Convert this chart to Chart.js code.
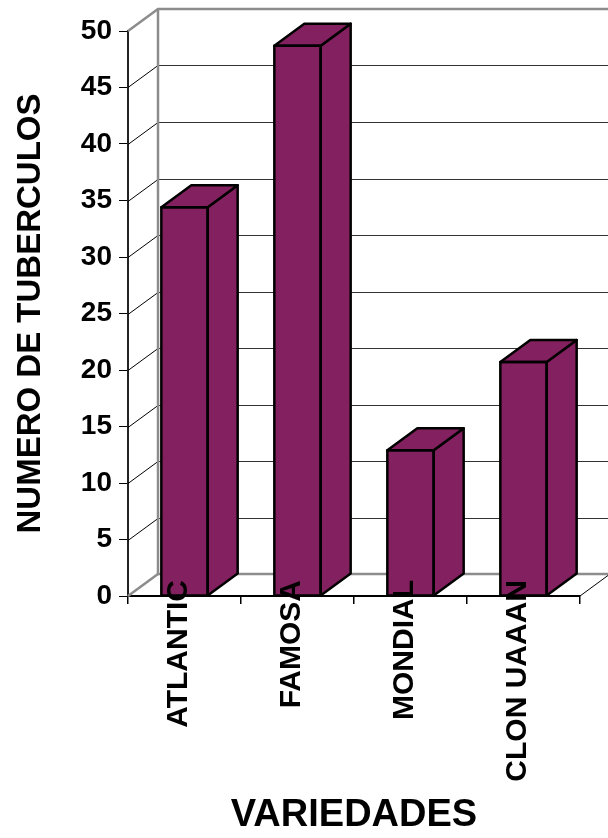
<!DOCTYPE html>
<html>
<head>
<meta charset="utf-8">
<script src="https://cdn.jsdelivr.net/npm/chart.js@4/dist/chart.umd.min.js"></script>
<style>
  html, body { margin: 0; padding: 0; background: #fff; }
  #wrap { width: 608px; height: 838px; position: relative; }
</style>
</head>
<body>
<div id="wrap"><canvas id="chart"></canvas></div>
<script>
// Datos
const VARIEDADES = ['ATLANTIC', 'FAMOSA', 'MONDIAL', 'CLON UAAAN'];
const TUBERCULOS = [34.4, 48.7, 12.9, 20.7];
const Y_MIN = 0, Y_MAX = 50, Y_STEP = 5;

const BAR = '#83205F';
const WALL = '#8c8c8c';
const DX = 30, DY = 22;   // depth of the 3d box (px)
const FONT = "'Liberation Sans', Arial, sans-serif";

// ── 3d walls, floor and bar faces ─────────────────────────────────────────────
const box3d = {
  id: 'box3d',
  beforeDatasetsDraw(chart) {
    const { ctx, chartArea: a, scales: { y } } = chart;
    const line = (pts, color, w) => {
      ctx.beginPath();
      ctx.moveTo(pts[0][0], pts[0][1]);
      pts.slice(1).forEach(p => ctx.lineTo(p[0], p[1]));
      ctx.strokeStyle = color; ctx.lineWidth = w; ctx.stroke();
    };
    ctx.save();
    y.ticks.forEach(t => {
      if (t.value <= Y_MIN || t.value >= Y_MAX) return;
      const py = Math.round(y.getPixelForValue(t.value)) + 0.5;
      line([[a.left + DX, py - DY], [a.right + DX, py - DY]], '#333', 1);
      line([[a.left, py], [a.left + DX, py - DY]], '#000', 1);
    });
    // wall / floor outline
    line([[a.left, a.top], [a.left + DX, a.top - DY], [a.right + DX, a.top - DY]], WALL, 2.5);
    line([[a.left + DX, a.top - DY], [a.left + DX, a.bottom - DY], [a.right + DX, a.bottom - DY]], WALL, 2.5);
    line([[a.left, a.bottom], [a.left + DX, a.bottom - DY]], WALL, 2.5);
    line([[a.right, a.bottom], [a.right + DX, a.bottom - DY]], '#000', 1);
    ctx.restore();
  },
  afterDatasetsDraw(chart) {
    const { ctx } = chart;
    ctx.save();
    ctx.fillStyle = BAR;
    ctx.strokeStyle = '#000';
    ctx.lineWidth = 2.5;
    ctx.lineJoin = 'round';
    chart.getDatasetMeta(0).data.forEach(bar => {
      const { x, y, base, width } = bar.getProps(['x', 'y', 'base', 'width'], true);
      const l = x - width / 2, r = x + width / 2;
      ctx.beginPath();
      ctx.moveTo(r, base); ctx.lineTo(r, y); ctx.lineTo(r + DX, y - DY); ctx.lineTo(r + DX, base - DY);
      ctx.closePath(); ctx.fill(); ctx.stroke();
      ctx.beginPath();
      ctx.moveTo(l, y); ctx.lineTo(l + DX, y - DY); ctx.lineTo(r + DX, y - DY); ctx.lineTo(r, y);
      ctx.closePath(); ctx.fill(); ctx.stroke();
      ctx.strokeRect(l, y, width, base - y);
    });
    ctx.restore();
  },
  // category labels overlap the floor, so Chart.js' clipped tick labels can't be used
  afterDraw(chart) {
    const { ctx, chartArea: a, scales: { x } } = chart;
    ctx.save();
    ctx.fillStyle = '#000';
    ctx.font = `bold 30px ${FONT}`;
    ctx.textAlign = 'right';
    ctx.textBaseline = 'middle';
    chart.data.labels.forEach((lab, i) => {
      ctx.save();
      ctx.translate(x.getPixelForValue(i) - 6, a.bottom - 16);
      ctx.rotate(-Math.PI / 2);
      ctx.fillText(lab, 0, 0);
      ctx.restore();
    });
    ctx.restore();
  },
};

new Chart(document.getElementById('chart'), {
  type: 'bar',
  data: {
    labels: VARIEDADES,
    datasets: [{
      data: TUBERCULOS,
      backgroundColor: BAR,
      borderWidth: 0,
      barPercentage: 0.41,
      categoryPercentage: 1,
    }],
  },
  plugins: [box3d],
  options: {
    responsive: true,
    maintainAspectRatio: false,
    animation: false,
    layout: { padding: { left: 0, top: 31, right: 28, bottom: 0 } },
    plugins: { legend: { display: false }, tooltip: { enabled: false } },
    scales: {
      x: {
        z: 1,
        grid: { drawOnChartArea: false, drawTicks: true, tickLength: 8, color: '#000', lineWidth: 1.5 },
        border: { color: '#000', width: 2 },
        ticks: { display: false },
        title: {
          display: true, text: 'VARIEDADES', color: '#000',
          padding: { top: 0, bottom: 0 },
          font: { family: FONT, size: 38, weight: 'bold' },
        },
        afterFit: s => { s.height = 242; },
      },
      y: {
        min: Y_MIN, max: Y_MAX,
        grid: { drawOnChartArea: false, drawTicks: true, tickLength: 9, color: '#000', lineWidth: 1 },
        border: { color: '#222', width: 2 },
        ticks: {
          stepSize: Y_STEP, padding: 7, color: '#000',
          font: { family: FONT, size: 28, weight: 'bold' },
        },
        title: {
          display: true, text: 'NUMERO DE TUBERCULOS', color: '#000',
          padding: { top: 11, bottom: 0 },
          font: { family: FONT, size: 33, weight: 'bold' },
        },
        afterFit: s => { s.width = 128; },
      },
    },
  },
});
</script>
</body>
</html>
